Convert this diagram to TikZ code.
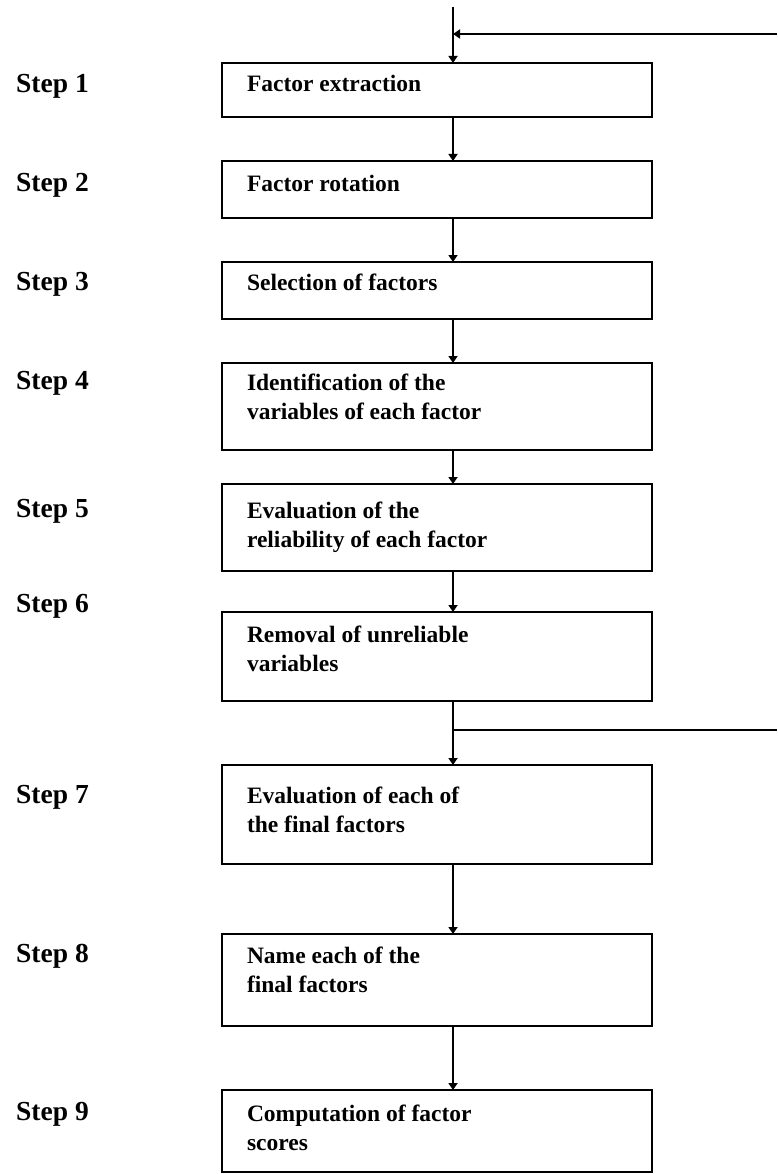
\documentclass[tikz,border=0pt]{standalone}
\usepackage{fontspec}
\setmainfont{Liberation Serif}
\usetikzlibrary{arrows.meta,calc}
% box text: total height, height of first line, text
\newcommand{\boxtxt}[3]{\parbox[c][#1][t]{380pt}{\rule{0pt}{#2}#3}}
\tikzset{
  stepbox/.style = { draw, line width=2pt, anchor=north west, inner xsep=24pt,
    inner ysep=0pt, outer sep=0pt, minimum width=430pt,
    font=\fontsize{23.5}{29}\selectfont\bfseries },
  steplbl/.style = { anchor=base west, inner sep=0pt,
    font=\fontsize{27.5}{32}\selectfont\bfseries },
  fline/.style = { line width=2pt },
  flow/.style  = { fline, -{Triangle[length=7pt,width=9pt]} }
}

\begin{document}
\begin{tikzpicture}[x=1pt,y=-1pt]
    \useasboundingbox (0,0) rectangle (777,1174);
    \coordinate (top) at (453,7);
    \coordinate (fbin) at (777,34);
    \coordinate (fbout) at (777,730);

    \node[steplbl] (s1) at (16,93) {Step 1};
    \node[steplbl] (s2) at (16,192) {Step 2};
    \node[steplbl] (s3) at (16,290) {Step 3};
    \node[steplbl] (s4) at (16,389) {Step 4};
    \node[steplbl] (s5) at (16,517) {Step 5};
    \node[steplbl] (s6) at (16,612) {Step 6};
    \node[steplbl] (s7) at (16,803) {Step 7};
    \node[steplbl] (s8) at (16,962) {Step 8};
    \node[steplbl] (s9) at (16,1120) {Step 9};

    \node[stepbox] (b1) at (222,63) {\boxtxt{54pt}{29pt}{Factor extraction}};
    \node[stepbox] (b2) at (222,161) {\boxtxt{57pt}{31pt}{Factor rotation}};
    \node[stepbox] (b3) at (222,262) {\boxtxt{57pt}{28pt}{Selection of factors}};
    \node[stepbox] (b4) at (222,363) {\boxtxt{87pt}{27pt}{Identification of the\\variables of each factor}};
    \node[stepbox] (b5) at (222,484) {\boxtxt{87pt}{34pt}{Evaluation of the\\reliability of each factor}};
    \node[stepbox] (b6) at (222,612) {\boxtxt{89pt}{30pt}{Removal of unreliable\\variables}};
    \node[stepbox] (b7) at (222,765) {\boxtxt{99pt}{38pt}{Evaluation of each of\\the final factors}};
    \node[stepbox] (b8) at (222,934) {\boxtxt{92pt}{29pt}{Name each of the\\final factors}};
    \node[stepbox] (b9) at (222,1090) {\boxtxt{82pt}{31pt}{Computation of factor\\scores}};

    \draw[flow] (top) -- (b1.north -| top);
    \draw[flow] (fbin) -- (fbin -| top);
    \draw[flow] (b1.south -| top) -- (b2.north -| top);
    \draw[flow] (b2.south -| top) -- (b3.north -| top);
    \draw[flow] (b3.south -| top) -- (b4.north -| top);
    \draw[flow] (b4.south -| top) -- (b5.north -| top);
    \draw[flow] (b5.south -| top) -- (b6.north -| top);
    \draw[flow] (b6.south -| top) -- (b7.north -| top);
    \draw[fline] (fbout -| top) -- (fbout);
    \draw[flow] (b7.south -| top) -- (b8.north -| top);
    \draw[flow] (b8.south -| top) -- (b9.north -| top);
\end{tikzpicture}
\end{document}
